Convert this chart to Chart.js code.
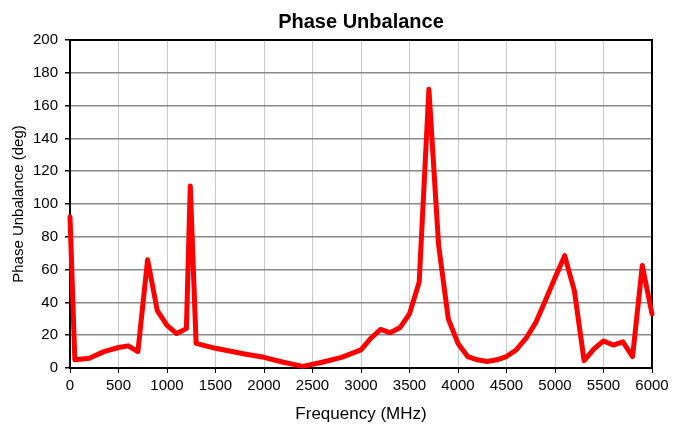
<!DOCTYPE html>
<html>
<head>
<meta charset="utf-8">
<title>Phase Unbalance</title>
<script src="https://cdn.jsdelivr.net/npm/chart.js@4/dist/chart.umd.min.js"></script>
<style>
    body { margin: 0; background: #ffffff; }
    canvas { display: block; }
</style>
</head>
<body>
<canvas id="phaseUnbalanceChart" width="686" height="430"></canvas>
<script>
const frequencyList = [0, 50, 200, 350, 500, 600, 700, 800, 900, 1000, 1100, 1200, 1240, 1300,
    1500, 1800, 2000, 2200, 2400, 2600, 2800, 3000, 3100, 3200, 3300, 3400, 3500, 3600, 3700,
    3800, 3900, 4000, 4100, 4200, 4300, 4400, 4500, 4600, 4700, 4800, 4900, 5000, 5100, 5200,
    5300, 5400, 5500, 5600, 5700, 5800, 5900, 6000];
const phaseUnbalanceList = [92, 5, 6, 10, 12.5, 13.5, 10, 66, 35, 26, 21, 24, 111, 15,
    12, 8.5, 6.5, 3.5, 1, 3.5, 6.5, 11, 18, 23.5, 21.5, 24.5, 33, 52.5, 170,
    75, 30, 15, 7, 5, 4, 5, 7, 11, 18, 27.5, 41, 55, 68.5, 47,
    4.5, 11.5, 16.5, 14, 16, 7, 62.5, 33];

// axis tick labels
const frequencyTicks = [0, 500, 1000, 1500, 2000, 2500, 3000, 3500, 4000, 4500, 5000, 5500, 6000];
const phaseTicks = [0, 20, 40, 60, 80, 100, 120, 140, 160, 180, 200];

const FONT_FAMILY = "'Liberation Sans', Arial, Helvetica, sans-serif";

// black frame round the plot area (top and right sides are not scale borders)
const plotFramePlugin = {
    id: "plotFrame",
    beforeDatasetsDraw(chart) {
        const area = chart.chartArea;
        const ctx = chart.ctx;
        ctx.save();
        ctx.strokeStyle = "#000000";
        ctx.lineWidth = 2;
        ctx.strokeRect(area.left, area.top, area.right - area.left, area.bottom - area.top);
        ctx.restore();
    }
};

function buildPoints() {
    var points = [];
    for (var i = 0; i < frequencyList.length; i++) {
        points.push({ x: frequencyList[i], y: phaseUnbalanceList[i] });
    }
    return points;
}

// plain numbers, no thousands separator
function plainLabel(value) {
    return String(value);
}

function generateChartOnPage() {
    const chartData = {
        datasets: [{
            label: "Phase Unbalance",
            data: buildPoints(),
            borderColor: "#ff0000",
            borderWidth: 5,
            borderJoinStyle: "round",
            borderCapStyle: "round",
            pointRadius: 0,
            tension: 0,
            fill: false,
            clip: false
        }]
    };

    const chartOptions = {
        responsive: false,
        animation: false,
        devicePixelRatio: 1,
        layout: {
            padding: { left: 0, right: 34, top: 0, bottom: 0 }
        },
        plugins: {
            legend: { display: false },
            tooltip: { enabled: false },
            title: {
                display: true,
                text: "Phase Unbalance",
                fullSize: false,
                color: "#000000",
                font: { family: FONT_FAMILY, size: 20, weight: "bold" },
                padding: { top: 10, bottom: 6 }
            }
        },
        scales: {
            x: {
                type: "linear",
                min: 0,
                max: 6000,
                afterBuildTicks: function (scale) {
                    scale.ticks = frequencyTicks.map(v => ({ value: v }));
                },
                afterFit: function (scale) {
                    scale.height = 62;
                },
                ticks: {
                    autoSkip: false,
                    maxRotation: 0,
                    padding: 4,
                    color: "#000000",
                    font: { family: FONT_FAMILY, size: 15 },
                    callback: plainLabel
                },
                grid: {
                    color: "#c8c8c8",
                    lineWidth: 1,
                    tickColor: "#000000",
                    tickLength: 5
                },
                border: { color: "#000000", width: 2 },
                title: {
                    display: true,
                    text: "Frequency (MHz)",
                    color: "#000000",
                    font: { family: FONT_FAMILY, size: 17 },
                    padding: { top: 0, bottom: 5 }
                }
            },
            y: {
                type: "linear",
                min: 0,
                max: 200,
                afterBuildTicks: function (scale) {
                    scale.ticks = phaseTicks.map(v => ({ value: v }));
                },
                afterFit: function (scale) {
                    scale.width = 70;
                },
                ticks: {
                    padding: 7,
                    color: "#000000",
                    font: { family: FONT_FAMILY, size: 15 },
                    callback: plainLabel
                },
                grid: {
                    color: "#888888",
                    lineWidth: 1.5,
                    tickColor: "#000000",
                    tickLength: 5
                },
                border: { color: "#000000", width: 2 },
                title: {
                    display: true,
                    text: "Phase Unbalance (deg)",
                    color: "#000000",
                    font: { family: FONT_FAMILY, size: 15 },
                    padding: { top: 10, bottom: 0 }
                }
            }
        }
    };

    const ctx = document.getElementById("phaseUnbalanceChart").getContext("2d");
    new Chart(ctx, {
        type: "line",
        data: chartData,
        options: chartOptions,
        plugins: [plotFramePlugin]
    });
}

generateChartOnPage();
</script>
</body>
</html>
